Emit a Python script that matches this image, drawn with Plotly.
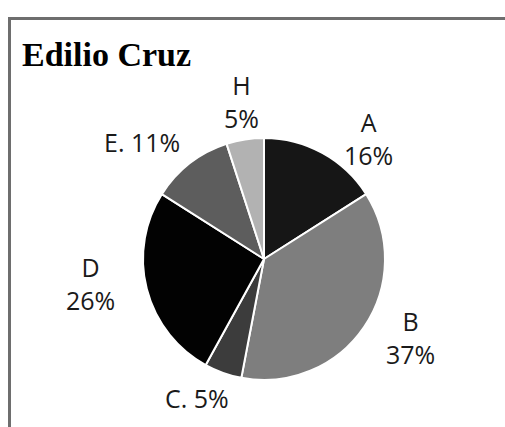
import plotly.graph_objects as go

W, H = 505, 427

categories = ["A", "B", "C", "D", "E", "H"]
values = [16, 37, 5, 26, 11, 5]
label_texts = ["A<br>16%", "B<br>37%", "C. 5%", "D<br>26%", "E. 11%", "H<br>5%"]

slice_colors = ["#161616", "#7e7e7e", "#3c3c3c", "#020202", "#5d5d5d", "#b2b2b2"]
# label centres in pixels (style)
label_pos = [(368, 138), (410, 337), (197, 398), (90, 283), (142, 142), (241, 101)]

def px(x, y):
    return x / W, 1 - y / H

cx, cy, r = 264, 259, 121

fig = go.Figure()
fig.add_trace(go.Pie(
    labels=categories,
    values=values,
    sort=False,
    direction="clockwise",
    rotation=0,
    textinfo="none",
    hoverinfo="label+percent",
    marker=dict(colors=slice_colors, line=dict(color="white", width=2)),
    domain=dict(x=[(cx - r) / W, (cx + r) / W], y=[1 - (cy + r) / H, 1 - (cy - r) / H]),
    showlegend=False,
))

annotations = []
for t, (x, y) in zip(label_texts, label_pos):
    ax, ay = px(x, y)
    annotations.append(dict(
        text=t, x=ax, y=ay, xref="paper", yref="paper",
        xanchor="center", yanchor="middle", showarrow=False,
        font=dict(family="Open Sans", size=25, color="#1a1a1a"),
    ))

tx, ty = px(20, 54)
annotations.append(dict(
    text="<b>Edilio Cruz</b>", x=tx, y=ty, xref="paper", yref="paper",
    xanchor="left", yanchor="middle", showarrow=False,
    font=dict(family="Liberation Serif", size=34, color="#000000"),
))

x0, y0 = px(9.5, 18.5)
frame = dict(color="#6e6e6e", width=3)
fig.add_shape(type="line", xref="paper", yref="paper",
              x0=x0 - 1.5 / W, y0=y0, x1=1.0, y1=y0, line=frame)
fig.add_shape(type="line", xref="paper", yref="paper",
              x0=x0, y0=y0, x1=x0, y1=0.0, line=frame)

fig.update_layout(
    width=W, height=H,
    margin=dict(l=0, r=0, t=0, b=0),
    paper_bgcolor="white", plot_bgcolor="white",
    annotations=annotations,
)

fig.write_html("out.html", config={"displayModeBar": False},
               post_script="document.body.style.margin='0';document.body.style.overflow='hidden';")
